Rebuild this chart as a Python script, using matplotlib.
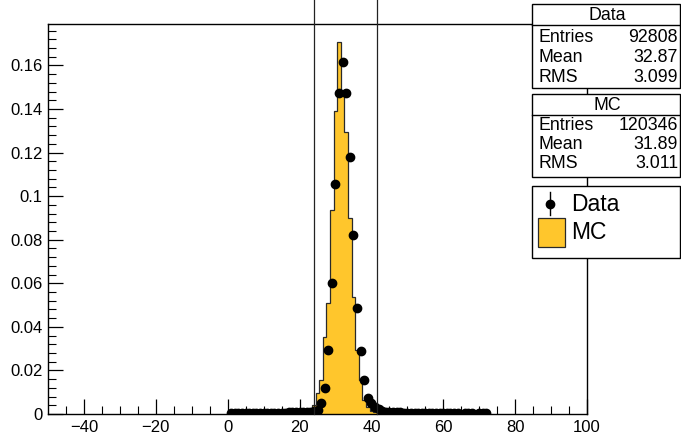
import matplotlib
matplotlib.use("Agg")
import matplotlib.pyplot as plt
from matplotlib.patches import Rectangle
from matplotlib.lines import Line2D
import numpy as np

plt.rcParams['font.family'] = ['Liberation Sans', 'DejaVu Sans']

# ---------------- data ----------------
# MC histogram (bin centres, normalised contents)
mc_centers = [21, 22, 23, 24, 25, 26, 27, 28, 29, 30, 31, 32, 33, 34, 35, 36, 37, 38, 39, 40, 41, 42]
mc_values = [0.0003, 0.0007, 0.0015, 0.004, 0.0096, 0.0156, 0.0355, 0.0508, 0.0936, 0.139, 0.1708,
             0.147, 0.1295, 0.0898, 0.0538, 0.0294, 0.0156, 0.0064, 0.003, 0.0015, 0.0008, 0.0003]

# Data points (bin centres, normalised contents)
data_x = list(range(1, 65)) + [66, 67, 68, 70, 71, 72]
data_y = ([0.0004] * 10 +                                   # 1-10
          [0.0005, 0.0005, 0.0005, 0.0006, 0.0006, 0.0006, 0.0007, 0.0007, 0.0008, 0.0008,   # 11-20
           0.0009, 0.0010, 0.0011, 0.0014, 0.0020, 0.0049, 0.0121, 0.0292, 0.0602, 0.1054,   # 21-30
           0.1472, 0.1616, 0.1474, 0.1180, 0.0821, 0.0485, 0.0289, 0.0156, 0.0075, 0.0052,   # 31-40
           0.0034, 0.0022, 0.0014, 0.0011, 0.0009, 0.0008, 0.0007, 0.0007, 0.0006, 0.0006,   # 41-50
           0.0006, 0.0005, 0.0005, 0.0005, 0.0005, 0.0005, 0.0004, 0.0004, 0.0004, 0.0004,   # 51-60
           0.0004, 0.0004, 0.0004, 0.0004,                                                   # 61-64
           0.0003, 0.0003, 0.0003, 0.0003, 0.0003, 0.0003])                                 # 66-72

cut_lines = [23.9, 41.5]

data_stats = [("Entries", "92808"), ("Mean", "32.87"), ("RMS", "3.099")]
mc_stats = [("Entries", "120346"), ("Mean", "31.89"), ("RMS", "3.011")]

x_ticks = [-40, -20, 0, 20, 40, 60, 80, 100]
y_ticks = [0, 0.02, 0.04, 0.06, 0.08, 0.1, 0.12, 0.14, 0.16]
y_tick_labels = ["0", "0.02", "0.04", "0.06", "0.08", "0.1", "0.12", "0.14", "0.16"]

# ---------------- figure ----------------
W, H = 681, 437
fig = plt.figure(figsize=(W / 100, H / 100), dpi=100)
fig.patch.set_facecolor("white")

L, R, T, B = 48, 587, 24, 414
ax = fig.add_axes([L / W, 1 - B / H, (R - L) / W, (B - T) / H])
ax.set_xlim(-50, 100)
ax.set_ylim(0, 0.179)

gold = "#FFC62C"
edges = np.concatenate([[mc_centers[0] - 0.5], np.array(mc_centers) + 0.5])
ax.stairs(mc_values, edges, fill=True, facecolor=gold, edgecolor="none", zorder=2)
ax.stairs(mc_values, edges, fill=False, color="#2a2a2a", lw=0.9, zorder=3)

ax.plot(data_x, data_y, 'o', color="black", markersize=6, zorder=4)

for xc in cut_lines:
    ax.plot([xc, xc], [0, 0.25], color="#222222", lw=0.9, clip_on=False, zorder=5)

ax.set_xticks(x_ticks)
ax.set_xticks(np.arange(-45, 100, 5), minor=True)
ax.set_yticks(y_ticks)
ax.set_yticklabels(y_tick_labels)
ax.set_yticks(np.arange(0, 0.179, 0.004), minor=True)
ax.tick_params(axis='both', which='major', direction='in', length=11, width=0.9,
               labelsize=12, top=False, right=False, pad=4)
ax.tick_params(axis='both', which='minor', direction='in', length=6, width=0.8,
               top=False, right=False)
for s in ax.spines.values():
    s.set_linewidth(1.0)


def frect(x0, y0, x1, y1, **kw):
    r = Rectangle((x0 / W, 1 - y1 / H), (x1 - x0) / W, (y1 - y0) / H,
                  transform=fig.transFigure, **kw)
    fig.patches.append(r)
    return r


def fline(x0, y0, x1, y1, **kw):
    ln = Line2D([x0 / W, x1 / W], [1 - y0 / H, 1 - y1 / H], transform=fig.transFigure, **kw)
    fig.lines.append(ln)


def ftext(x, y, s, **kw):
    fig.text(x / W, 1 - y / H, s, **kw)


def stat_box(y0, y1, yh, title, rows, row_y):
    frect(532, y0, 680, y1, facecolor="white", edgecolor="black", lw=1.0, zorder=10)
    fline(532, yh, 680, yh, color="black", lw=1.0, zorder=11)
    ftext(607, (y0 + yh) / 2 + 0.5, title, ha="center", va="center", fontsize=12.8, zorder=12)
    for (lab, val), yy in zip(rows, row_y):
        ftext(538, yy, lab, ha="left", va="center", fontsize=12.8, zorder=12)
        ftext(678, yy, val, ha="right", va="center", fontsize=12.8, zorder=12)


stat_box(4, 88, 25, "Data", data_stats, [37, 57.5, 77])
stat_box(94, 176.5, 115, "MC", mc_stats, [125, 145, 164])

# legend box
frect(532, 186, 680, 258, facecolor="white", edgecolor="black", lw=1.0, zorder=10)
fline(550, 192, 550, 215, color="black", lw=1.0, zorder=12)
fig.lines.append(Line2D([550 / W], [1 - 203.5 / H], marker='o', color='black', markersize=6,
                        linestyle='none', transform=fig.transFigure, zorder=13))
ftext(571, 204, "Data", ha="left", va="center", fontsize=16.5, zorder=12)
frect(538, 218, 565, 247, facecolor=gold, edgecolor="#2a2a2a", lw=0.9, zorder=12)
ftext(571, 233, "MC", ha="left", va="center", fontsize=16.5, zorder=12)

fig.savefig("out.png", dpi=100, facecolor="white")
